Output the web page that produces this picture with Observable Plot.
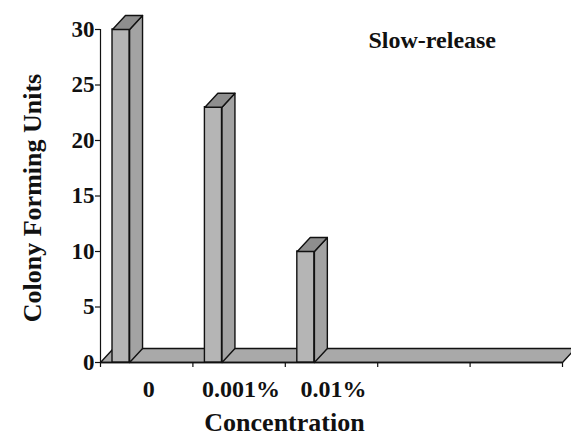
<!DOCTYPE html>
<html>
<head>
<meta charset="utf-8">
<script src="https://cdn.jsdelivr.net/npm/d3@7"></script>
<script src="https://cdn.jsdelivr.net/npm/@observablehq/plot@0.6"></script>
<style>
  body { margin: 0; background: #fff; }
</style>
</head>
<body>
<div id="chart"></div>
<script>
// ---- data ----
const categories = ["0", "0.001%", "0.01%", "", ""];
const cfu = [30, 23, 10, 0, 0];
const yTicks = [0, 5, 10, 15, 20, 25, 30];
const xTitle = "Concentration";
const yTitle = "Colony Forming Units";
const panelLabel = "Slow-release";

// ---- 3D box geometry (in data units) ----
const barOffset = 0.13, barWidth = 0.185;   // front face inside each band
const depthX = 0.14, depthY = 1.26;          // oblique depth

const fronts = [], sides = [], tops = [];
cfu.forEach((v, i) => {
  if (!(v > 0)) return;
  const x1 = i + barOffset, x2 = x1 + barWidth;
  fronts.push({x1, x2, y1: 0, y2: v});
  [[x2, 0], [x2 + depthX, depthY], [x2 + depthX, v + depthY], [x2, v]]
    .forEach(([x, y]) => sides.push({id: i, x, y}));
  [[x1, v], [x2, v], [x2 + depthX, v + depthY], [x1 + depthX, v + depthY]]
    .forEach(([x, y]) => tops.push({id: i, x, y}));
});
const n = categories.length;
const floor = [[0, 0], [n, 0], [n + depthX, depthY], [depthX, depthY]]
  .map(([x, y]) => ({id: "floor", x, y}));

const poly = (data, fill) => Plot.line(data, {
  x: "x", y: "y", z: "id", curve: "linear-closed",
  fill, stroke: "#111", strokeWidth: 1.4, strokeLinejoin: "round"
});

const chart = Plot.plot({
  width: 571,
  height: 440,
  marginLeft: 100,
  marginRight: 9,
  marginTop: 29,
  marginBottom: 78,
  x: {type: "linear", domain: [0, n]},
  y: {domain: [0, 30]},
  style: {fontFamily: "'Liberation Serif', 'Times New Roman', serif", fontWeight: "bold", color: "#111", background: "#fff"},
  marks: [
    poly(floor, "#a9a9a9"),
    Plot.ruleX([0], {y1: 0, y2: 30, stroke: "#111", strokeWidth: 1.2}),
    Plot.ruleY([0], {x1: 0, x2: n, stroke: "#111", strokeWidth: 1.4}),
    Plot.axisY({ticks: yTicks, tickSize: 5, tickPadding: 1, fontSize: 23, label: null, strokeWidth: 1.2}),
    Plot.axisX({ticks: d3.range(0, n + 1), tickSize: 5, tickFormat: () => "", label: null, strokeWidth: 1.2}),
    Plot.rect(fronts, {x1: "x1", x2: "x2", y1: "y1", y2: "y2", fill: "#b5b5b5", stroke: "#111", strokeWidth: 1.4}),
    poly(sides, "#a3a3a3"),
    poly(tops, "#8e8e8e"),
    Plot.text(categories, {x: (d, i) => i + 0.5, frameAnchor: "bottom", dx: 2, dy: 34, lineAnchor: "bottom", fontSize: 24, fill: "#111"}),
    Plot.text([xTitle], {frameAnchor: "bottom", dx: -47, dy: 68, lineAnchor: "bottom", fontSize: 26, fill: "#111"}),
    Plot.text([yTitle], {frameAnchor: "left", textAnchor: "middle", rotate: -90, dx: -60, dy: 2, lineAnchor: "bottom", fontSize: 26, fill: "#111"}),
    Plot.text([panelLabel], {frameAnchor: "top-right", textAnchor: "start", dx: -194, dy: 18, lineAnchor: "bottom", fontSize: 24, fill: "#111"})
  ]
});
document.getElementById("chart").appendChild(chart);
</script>
</body>
</html>
